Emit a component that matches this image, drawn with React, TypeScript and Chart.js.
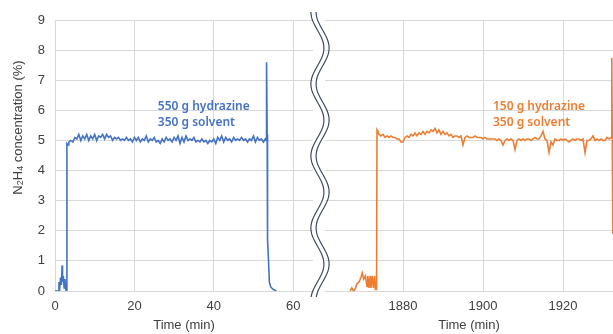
import React, { useEffect, useRef } from "react";
import { Chart, registerables } from "chart.js";
Chart.register(...registerables);

// ---- Data ----
const blueTimes = [
  0, 0.9, 1.0, 1.2, 1.4, 1.6, 1.8, 1.9, 2.1, 2.3, 2.5, 2.7, 2.85, 3.0, 3.3,
  3.5, 4, 4.5, 5, 5.5, 6, 6.5, 7, 7.5, 8, 8.5, 9, 9.5, 10, 10.5, 11, 11.5, 12, 12.5, 13, 13.5,
  14, 14.5, 15, 15.5, 16, 16.5, 17, 17.5, 18, 18.5, 19, 19.5, 20, 20.5, 21, 21.5, 22, 22.5, 23, 23.5,
  24, 24.5, 25, 25.5, 26, 26.5, 27, 27.5, 28, 28.5, 29, 29.5, 30, 30.5, 31, 31.5, 32, 32.5, 33, 33.5,
  34, 34.5, 35, 35.5, 36, 36.5, 37, 37.5, 38, 38.5, 39, 39.5, 40, 40.5, 41, 41.5, 42, 42.5, 43, 43.5,
  44, 44.5, 45, 45.5, 46, 46.5, 47, 47.5, 48, 48.5, 49, 49.5, 50, 50.5, 51, 51.5, 52, 52.5, 53,
  53.2, 53.3, 53.45, 53.55, 53.8, 54.0, 54.3, 54.6, 55.0, 55.8,
];
const blueConc = [
  0, 0, 0.3, 0.1, 0.45, 0.2, 0.85, 0.3, 0.5, 0.1, 0.4, 0.05, 0, 4.9, 4.85,
  4.95, 5.0, 4.95, 5.1, 5.05, 5.2, 5.0, 5.15, 5.05, 5.2, 5.0, 5.15, 5.05, 5.2, 5.0, 5.15, 5.1, 5.2, 5.05, 5.2, 5.1,
  5.15, 5.0, 5.1, 5.05, 5.1, 5.0, 5.05, 5.0, 5.1, 5.0, 5.05, 4.95, 5.1, 5.0, 5.1, 4.95, 5.05, 5.0, 5.15, 4.95,
  5.05, 5.0, 5.1, 4.95, 5.0, 4.9, 5.05, 4.95, 5.1, 5.0, 5.05, 4.95, 5.1, 5.0, 5.15, 4.9, 5.1, 4.95, 5.15, 5.0,
  5.05, 5.0, 5.1, 4.95, 5.0, 4.95, 5.05, 4.95, 5.0, 4.9, 5.0, 4.95, 5.05, 4.9, 5.1, 5.0, 5.15, 4.95, 5.1, 5.0,
  5.05, 4.95, 5.1, 5.0, 5.05, 5.0, 5.1, 5.0, 5.05, 4.95, 5.05, 5.0, 5.15, 4.95, 5.1, 5.0, 5.05, 4.95, 5.05,
  5.0, 7.6, 5.2, 1.7, 1.0, 0.3, 0.15, 0.1, 0.05, 0,
];

const orangeTimes = [
  1866.8, 1867.2, 1867.6, 1868.0, 1868.5, 1869.0, 1869.5, 1869.8, 1870.2, 1870.6, 1871.0, 1871.2, 1871.5,
  1871.8, 1872.0, 1872.3, 1872.6, 1872.9, 1873.1, 1873.4, 1873.5, 1873.7,
  1874, 1874.5, 1875, 1875.5, 1876, 1876.5, 1877, 1877.5, 1878, 1878.5, 1879, 1879.5, 1880, 1880.5,
  1881, 1881.5, 1882, 1882.5, 1883, 1883.5, 1884, 1884.5, 1885, 1885.5, 1886, 1886.5, 1887, 1887.5,
  1888, 1888.5, 1889, 1889.5, 1890, 1890.5, 1891, 1891.5, 1892, 1892.5, 1893, 1893.5, 1894, 1894.5,
  1895, 1895.5, 1896, 1896.5, 1897, 1897.5, 1898, 1898.5, 1899, 1899.5, 1900, 1900.5, 1901, 1901.5,
  1902, 1902.5, 1903, 1903.5, 1904, 1904.5, 1905, 1905.5, 1906, 1906.5, 1907, 1907.5, 1908, 1908.5,
  1909, 1909.5, 1910, 1910.5, 1911, 1911.5, 1912, 1912.5, 1913, 1913.5, 1914, 1914.5, 1915, 1915.5,
  1916, 1916.5, 1917, 1917.5, 1918, 1918.5, 1919, 1919.5, 1920, 1920.5, 1921, 1921.5, 1922, 1922.5,
  1923, 1923.5, 1924, 1924.5, 1925, 1925.5, 1926, 1926.5, 1927, 1927.5, 1928, 1928.5, 1929, 1929.5,
  1930, 1930.5, 1931, 1931.5, 1932, 1932.2, 1932.45,
];
const orangeConc = [
  0, 0.1, 0, 0.05, 0.25, 0.3, 0.45, 0.6, 0.4, 0.5, 0.15, 0.5, 0.1,
  0.5, 0.1, 0.5, 0.1, 0.5, 0.05, 0.05, 5.35, 5.3,
  5.2, 5.15, 5.2, 5.1, 5.15, 5.1, 5.15, 5.1, 5.1, 5.05, 5.05, 4.95, 4.95, 5.1,
  5.15, 5.1, 5.2, 5.15, 5.25, 5.15, 5.25, 5.2, 5.3, 5.2, 5.3, 5.25, 5.35, 5.3,
  5.4, 5.25, 5.35, 5.2, 5.3, 5.2, 5.25, 5.15, 5.2, 5.1, 5.15, 5.15, 5.1, 5.15,
  4.85, 5.1, 5.15, 5.1, 5.1, 5.1, 5.15, 5.1, 5.1, 5.1, 5.05, 5.1, 5.05, 5.05,
  5.05, 5.05, 5.05, 5.0, 5.05, 5.0, 4.85, 5.0, 5.05, 5.0, 5.05, 5.0, 4.7, 5.0,
  5.05, 5.0, 5.05, 5.0, 5.05, 5.05, 5.0, 5.05, 5.1, 5.05, 5.05, 5.15, 5.3, 5.05,
  5.0, 4.6, 4.95, 4.85, 5.05, 5.0, 5.0, 5.05, 5.0, 5.05, 5.0, 4.95, 5.0, 5.05,
  5.0, 5.05, 5.05, 5.0, 5.05, 4.6, 5.0, 5.0, 5.05, 5.15, 5.0, 5.05, 5.0, 5.05,
  5.0, 5.0, 5.1, 5.05, 5.1, 7.75, 1.9,
];

const leftTicks = [0, 20, 40, 60];
const rightTicks = [1880, 1900, 1920];
const blueLabel = ["550 g hydrazine", "350 g solvent"];
const orangeLabel = ["150 g hydrazine", "350 g solvent"];
const blueLabelPos = { x: 25.9, y: 6.11 };
const orangeLabelPos = { x: 1902.5, y: 6.11 };

const BLUE = "#4472C4";
const ORANGE = "#ED7D31";
const GRID = "#d9d9d9";
const TEXT = "#404040";
const FONT = "'Liberation Sans', Arial, sans-serif";

const labelPlugin = (lines: string[], pos: { x: number; y: number }, color: string) => ({
  id: "labels",
  afterDatasetsDraw(chart: any) {
    const ctx = chart.ctx;
    const px = chart.scales.x.getPixelForValue(pos.x);
    const py = chart.scales.y.getPixelForValue(pos.y);
    ctx.save();
    ctx.fillStyle = color;
    ctx.font = "600 12px 'Noto Sans', 'Open Sans', sans-serif";
    ctx.textAlign = "left";
    ctx.textBaseline = "middle";
    lines.forEach((l, i) => ctx.fillText(l, px, py + i * 16));
    ctx.restore();
  },
});

const yTitlePlugin = {
  id: "ytitle",
  afterDraw(chart: any) {
    const ctx = chart.ctx;
    const segs = [
      { t: "N", sub: false },
      { t: "2", sub: true },
      { t: "H", sub: false },
      { t: "4", sub: true },
      { t: " concentration (%)", sub: false },
    ];
    const big = "13px " + FONT;
    const small = "9px " + FONT;
    ctx.save();
    let w = 0;
    segs.forEach((s) => {
      ctx.font = s.sub ? small : big;
      w += ctx.measureText(s.t).width;
    });
    const cy = (chart.chartArea.top + chart.chartArea.bottom) / 2 - 28;
    ctx.translate(18, cy);
    ctx.rotate(-Math.PI / 2);
    ctx.fillStyle = TEXT;
    ctx.textBaseline = "middle";
    ctx.textAlign = "left";
    let x = -w / 2;
    segs.forEach((s) => {
      ctx.font = s.sub ? small : big;
      ctx.fillText(s.t, x, s.sub ? 3 : 0);
      x += ctx.measureText(s.t).width;
    });
    ctx.restore();
  },
};

const wavePlugin = {
  id: "wave",
  afterDraw(chart: any) {
    const ctx = chart.ctx;
    const top = 12;
    const bottom = 297;
    const cx = 15;
    ctx.save();
    ctx.strokeStyle = "#3d4b68";
    ctx.lineWidth = 1.2;
    [-2.6, 2.6].forEach((off) => {
      ctx.beginPath();
      for (let y = top; y <= bottom; y += 1) {
        const x = cx + off + 6.5 * Math.sin((2 * Math.PI * (y - top)) / 72 - Math.PI / 2);
        if (y === top) ctx.moveTo(x, y);
        else ctx.lineTo(x, y);
      }
      ctx.stroke();
    });
    ctx.restore();
  },
};

function zip(xs: number[], ys: number[]) {
  return xs.map((x, i) => ({ x, y: ys[i] }));
}

export default function App() {
  const leftRef = useRef<HTMLCanvasElement>(null);
  const rightRef = useRef<HTMLCanvasElement>(null);

  useEffect(() => {
    const xCommon = (min: number, max: number, ticks: number[]) => ({
      type: "linear" as const,
      min,
      max,
      afterBuildTicks: (s: any) => {
        s.ticks = ticks.map((v) => ({ value: v }));
      },
      afterFit: (s: any) => {
        s.height = 43;
      },
      grid: { color: GRID, drawTicks: false },
      border: { color: GRID },
      ticks: {
        font: { family: FONT, size: 13 },
        color: TEXT,
        padding: 8,
        callback: (v: any) => String(v),
      },
      title: {
        display: true,
        text: "Time (min)",
        font: { family: FONT, size: 13 },
        color: TEXT,
        padding: { top: 0, bottom: 1 },
      },
    });

    const left = new Chart(leftRef.current!, {
      type: "line",
      data: {
        datasets: [
          {
            data: zip(blueTimes, blueConc),
            borderColor: BLUE,
            borderWidth: 1.6,
            pointRadius: 0,
            tension: 0,
          },
        ],
      },
      options: {
        animation: false,
        responsive: false,
        layout: { padding: { top: 20, right: 7, left: 0, bottom: 0 } },
        plugins: { legend: { display: false }, tooltip: { enabled: false } },
        scales: {
          x: xCommon(0, 65, leftTicks),
          y: {
            min: 0,
            max: 9,
            ticks: { stepSize: 1, font: { family: FONT, size: 13 }, color: TEXT, padding: 10 },
            grid: { color: GRID, drawTicks: false },
            border: { color: GRID },
            afterFit: (s: any) => {
              s.width = 55;
            },
          },
        },
      },
      plugins: [labelPlugin(blueLabel, blueLabelPos, BLUE), yTitlePlugin],
    });

    const right = new Chart(rightRef.current!, {
      type: "line",
      data: {
        datasets: [
          {
            data: zip(orangeTimes, orangeConc),
            borderColor: ORANGE,
            borderWidth: 1.6,
            pointRadius: 0,
            tension: 0,
          },
        ],
      },
      options: {
        animation: false,
        responsive: false,
        layout: { padding: { top: 20, right: 0, left: 20, bottom: 0 } },
        plugins: { legend: { display: false }, tooltip: { enabled: false } },
        scales: {
          x: xCommon(1860.5, 1932.5, rightTicks),
          y: {
            min: 0,
            max: 9,
            ticks: { stepSize: 1, display: false },
            grid: { color: GRID, drawTicks: false },
            border: { display: false },
            afterFit: (s: any) => {
              s.width = 0;
            },
          },
        },
      },
      plugins: [labelPlugin(orangeLabel, orangeLabelPos, ORANGE), wavePlugin],
    });

    return () => {
      left.destroy();
      right.destroy();
    };
  }, []);

  return (
    <div style={{ position: "absolute", left: 0, top: 0, width: 613, height: 334, background: "#fff" }}>
      <canvas ref={leftRef} width={320} height={334} style={{ position: "absolute", left: 0, top: 0 }} />
      <canvas ref={rightRef} width={308} height={334} style={{ position: "absolute", left: 305, top: 0 }} />
    </div>
  );
}
